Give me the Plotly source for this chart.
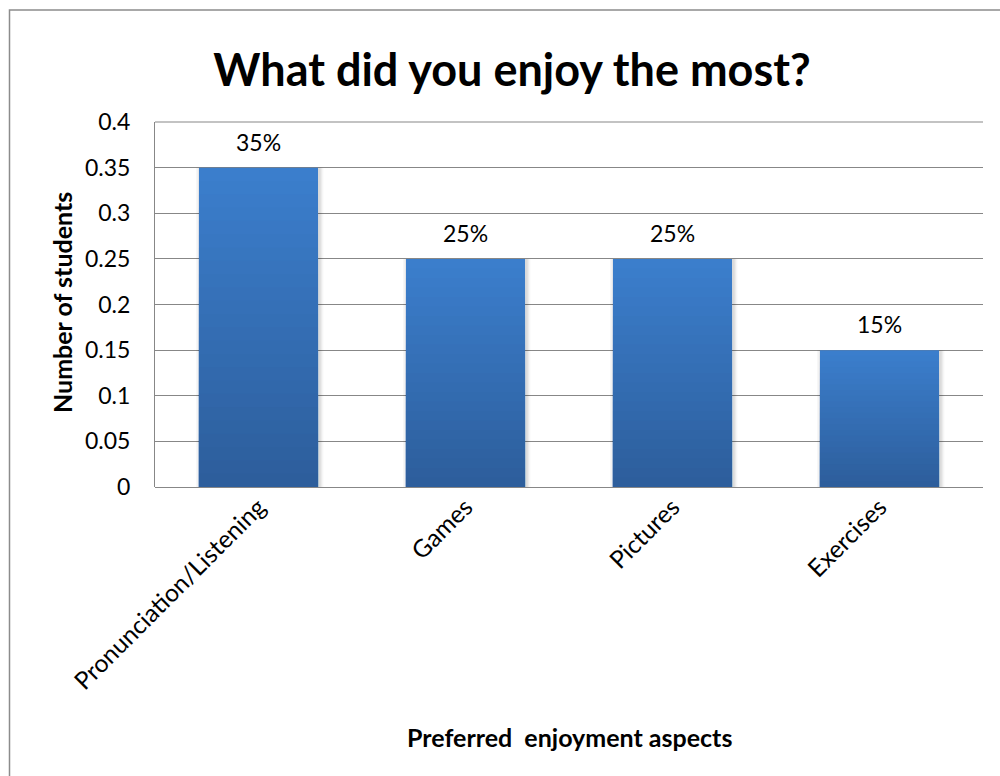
import plotly.graph_objects as go

categories = ["Pronunciation/Listening", "Games", "Pictures", "Exercises"]
shares = [0.35, 0.25, 0.25, 0.15]
value_labels = ["35%", "25%", "25%", "15%"]
y_ticks = [0, 0.05, 0.1, 0.15, 0.2, 0.25, 0.3, 0.35, 0.4]
y_tick_text = ["0", "0.05", "0.1", "0.15", "0.2", "0.25", "0.3", "0.35", "0.4"]

W, H = 1000, 776
L, R, T, B = 155, 17, 122, 289
plot_w = W - L - R
plot_h = H - T - B

FONT = "Lato, 'Open Sans', sans-serif"

top_rgb = (59, 126, 204)
bottom_rgb = (45, 94, 156)

fig = go.Figure()

# faint soft shadow around each column
for w, a in [(0.615, 0.035), (0.6, 0.05), (0.588, 0.06)]:
    fig.add_trace(go.Bar(
        x=categories, y=shares, width=w, offset=-w / 2 + 0.006,
        marker=dict(color=f"rgba(0,0,0,{a})", line=dict(width=0)),
        hoverinfo="skip", showlegend=False,
    ))

# vertical gradient: nested overlays, darker toward the base
steps = 24
for i in range(steps):
    frac = 1 - i / steps
    t = i / (steps - 1)
    c = tuple(round(top_rgb[k] + (bottom_rgb[k] - top_rgb[k]) * t) for k in range(3))
    fig.add_trace(go.Bar(
        x=categories, y=[v * frac for v in shares], width=0.575,
        marker=dict(color=f"rgb{c}", line=dict(width=0)),
        hoverinfo="skip", showlegend=False,
    ))

annotations = [
    dict(x=cat, y=val, text=lab, xref="x", yref="y", showarrow=False,
         yshift=26, yanchor="middle",
         font=dict(family=FONT, size=23, color="black"))
    for cat, val, lab in zip(categories, shares, value_labels)
]
annotations += [
    dict(text="<b>Number of students</b>", textangle=-90,
         xref="paper", yref="paper",
         x=(62 - L) / plot_w, y=(T + plot_h - 303) / plot_h,
         xanchor="center", yanchor="middle", showarrow=False,
         font=dict(family=FONT, size=25, color="black")),
    dict(text="<b>Preferred  enjoyment aspects</b>",
         xref="paper", yref="paper",
         x=0.5, y=-(737 - (T + plot_h)) / plot_h,
         xanchor="center", yanchor="middle", showarrow=False,
         font=dict(family=FONT, size=25, color="black")),
]

fig.update_layout(
    width=W, height=H,
    margin=dict(l=L, r=R, t=T, b=B),
    barmode="overlay",
    plot_bgcolor="white", paper_bgcolor="white",
    showlegend=False,
    title=dict(
        text="<b>What did you enjoy the most?</b>",
        font=dict(family=FONT, size=45, color="black"),
        x=512 / W, xanchor="center",
        y=1 - 70 / H, yanchor="middle", yref="container",
    ),
    xaxis=dict(
        type="category",
        tickangle=-45,
        tickfont=dict(family=FONT, size=24.5, color="black"),
        showgrid=False, showline=False, zeroline=False,
        ticks="", ticklabelstandoff=0,
    ),
    yaxis=dict(
        range=[0, 0.4],
        tickvals=y_ticks, ticktext=y_tick_text,
        tickfont=dict(family=FONT, size=23, color="black"),
        showgrid=True, gridcolor="#878787", gridwidth=1,
        showline=True, linecolor="#878787", linewidth=1,
        zeroline=True, zerolinecolor="#878787", zerolinewidth=1,
        ticks="", ticklabelstandoff=19,
    ),
    font=dict(family=FONT, color="black"),
    shapes=[
        # outer chart frame
        dict(type="rect", xref="paper", yref="paper",
             x0=(9.5 - L) / plot_w, x1=(W + 20 - L) / plot_w,
             y0=-(H + 20 - (T + plot_h)) / plot_h, y1=(T + plot_h - 10) / plot_h,
             line=dict(color="#8c8c8c", width=1.5), layer="below"),
        # top border of plot area
        dict(type="line", xref="paper", yref="paper", x0=0, x1=1, y0=1, y1=1,
             line=dict(color="#878787", width=1)),
    ],
    annotations=annotations,
)

fig.write_html("out.html")
